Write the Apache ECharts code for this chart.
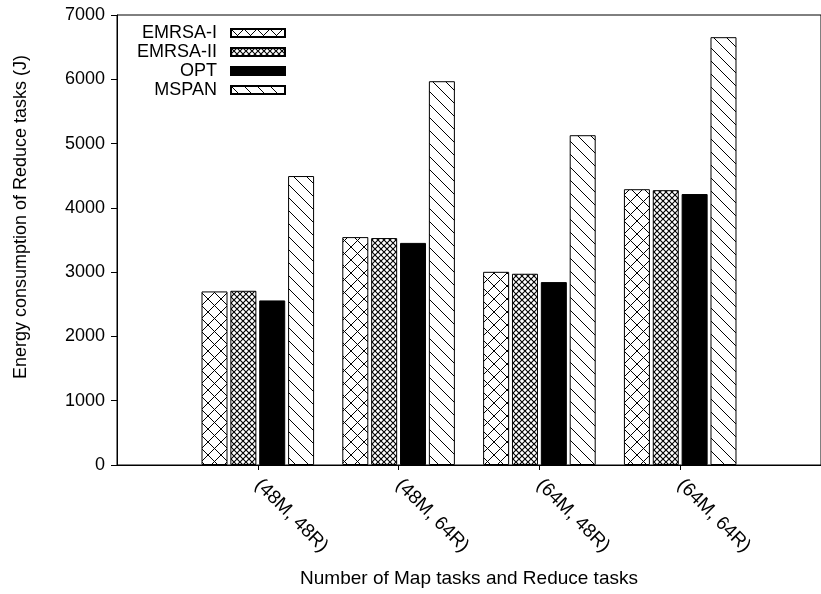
<!DOCTYPE html>
<html>
<head>
<meta charset="utf-8">
<script src="https://cdn.jsdelivr.net/npm/echarts@6/dist/echarts.min.js"></script>
<style>
  html, body { margin: 0; padding: 0; background: #fff; }
  #chart { width: 821px; height: 594px; }
</style>
</head>
<body>
<div id="chart"></div>
<script>
// Workload configurations (empty slots pad the axis on both ends)
const categories = ['', '(48M, 48R)', '(48M, 64R)', '(64M, 48R)', '(64M, 64R)', ''];

// Energy consumption of Reduce tasks (J)
const emrsa1 = [2700, 3545, 3005, 4290];
const emrsa2 = [2710, 3530, 2975, 4275];
const opt    = [2560, 3455, 2845, 4215];
const mspan  = [4495, 5970, 5130, 6655];

const yTicks = [0, 1000, 2000, 3000, 4000, 5000, 6000, 7000];

const FONT = '"Liberation Sans", Arial, Helvetica, sans-serif';

// Hatch fills drawn on small tiles and repeated
function tile(size, draw) {
  const c = document.createElement('canvas');
  c.width = size; c.height = size;
  const g = c.getContext('2d');
  g.fillStyle = '#fff';
  g.fillRect(0, 0, size, size);
  g.strokeStyle = '#000';
  g.lineWidth = 1;
  draw(g, size);
  return { image: c, repeat: 'repeat' };
}
function crossHatch(size, lw) {
  return tile(size, function (g, s) {
    g.lineWidth = lw;
    g.beginPath();
    g.moveTo(-1, -1); g.lineTo(s + 1, s + 1);
    g.moveTo(s + 1, -1); g.lineTo(-1, s + 1);
    g.stroke();
  });
}
function backHatch(size) {
  return tile(size, function (g, s) {
    g.beginPath();
    g.moveTo(-1, -1); g.lineTo(s + 1, s + 1);
    g.moveTo(-1, s - 1); g.lineTo(1, s + 1);
    g.moveTo(s - 1, -1); g.lineTo(s + 1, 1);
    g.stroke();
  });
}

const fills = {
  'EMRSA-I': crossHatch(13, 1),
  'EMRSA-II': crossHatch(6, 1.1),
  'OPT': '#000',
  'MSPAN': backHatch(13)
};

function pad(values) {
  return ['-'].concat(values, ['-']);
}

function barSeries(name, values) {
  return {
    name: name,
    type: 'bar',
    data: pad(values),
    barWidth: 26,
    barGap: '11%',
    itemStyle: { color: fills[name], borderColor: '#000', borderWidth: 1 },
    emphasis: { disabled: true },
    animation: false
  };
}

const showMid = function (idx) { return idx >= 1 && idx <= categories.length - 2; };

const chart = echarts.init(document.getElementById('chart'), null, { renderer: 'canvas' });
chart.setOption({
  backgroundColor: '#fff',
  animation: false,
  grid: {
    left: 117, top: 15, width: 713, height: 450,
    show: true, borderColor: '#000', borderWidth: 1, backgroundColor: 'transparent'
  },
  legend: {
    orient: 'vertical',
    right: 530,
    top: 19,
    align: 'right',
    itemWidth: 54,
    itemHeight: 8,
    itemGap: 1,
    icon: 'rect',
    selectedMode: false,
    textStyle: { fontFamily: FONT, fontSize: 18, color: '#000', padding: [0, 9, 0, 0] },
    data: ['EMRSA-I', 'EMRSA-II', 'OPT', 'MSPAN']
  },
  xAxis: {
    type: 'category',
    data: categories,
    boundaryGap: false,
    name: 'Number of Map tasks and Reduce tasks',
    nameLocation: 'middle',
    nameGap: 104,
    nameTextStyle: { fontFamily: FONT, fontSize: 19, color: '#000' },
    axisLine: { lineStyle: { color: '#000', width: 1 } },
    axisTick: { show: true, length: 5, interval: showMid, lineStyle: { color: '#000' } },
    axisLabel: {
      interval: showMid,
      rotate: -45,
      margin: 17,
      fontFamily: FONT, fontSize: 19, color: '#000'
    },
    splitLine: { show: false }
  },
  yAxis: {
    type: 'value',
    min: yTicks[0],
    max: yTicks[yTicks.length - 1],
    interval: 1000,
    name: 'Energy consumption of Reduce tasks (J)',
    nameLocation: 'middle',
    nameGap: 87,
    nameTextStyle: { fontFamily: FONT, fontSize: 18, color: '#000', padding: [0, 0, 0, 46] },
    axisLine: { show: true, lineStyle: { color: '#000', width: 1 } },
    axisTick: { show: true, length: 6, lineStyle: { color: '#000' } },
    axisLabel: {
      margin: 12,
      fontFamily: FONT, fontSize: 18, color: '#000',
      formatter: function (v) { return String(v); }
    },
    splitLine: { show: false }
  },
  series: [
    barSeries('EMRSA-I', emrsa1),
    barSeries('EMRSA-II', emrsa2),
    barSeries('OPT', opt),
    barSeries('MSPAN', mspan)
  ]
});
</script>
</body>
</html>
